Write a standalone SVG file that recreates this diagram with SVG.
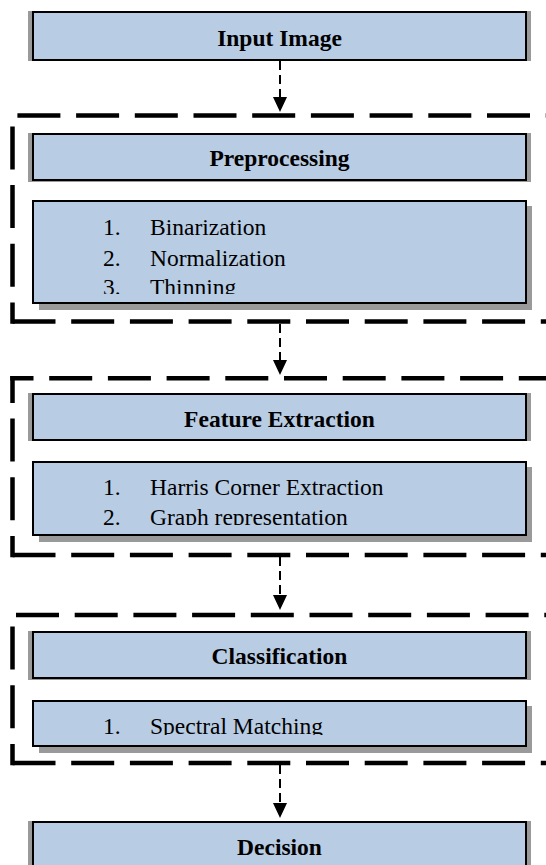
<svg xmlns="http://www.w3.org/2000/svg" width="546" height="865" viewBox="0 0 546 865">
  <style>
    .box { fill: #b8cce4; stroke: #000; stroke-width: 2; }
    .shadow { fill: #9a9a9a; }
    .frame { fill: none; stroke: #000; stroke-width: 4.5; stroke-dasharray: 43 15.7; }
    .flow { fill: none; stroke: #000; stroke-width: 2; stroke-dasharray: 9 5; }
    .head { font-family: "Liberation Serif", "Times New Roman", serif; font-size: 23.5px; font-weight: bold; fill: #000; text-anchor: middle; }
    .item { font-family: "Liberation Serif", "Times New Roman", serif; font-size: 23.5px; fill: #000; }
  </style>
  <defs>
    <marker id="arrow" viewBox="0 0 15 14" markerUnits="userSpaceOnUse" markerWidth="15" markerHeight="14" refX="0" refY="7" orient="auto">
      <path d="M0,0 L15,7 L0,14 Z" fill="#000"/>
    </marker>
    <clipPath id="clip-pre"><rect x="33" y="201" width="493" height="93"/></clipPath>
    <clipPath id="clip-feat"><rect x="33" y="462" width="493" height="63"/></clipPath>
    <clipPath id="clip-class"><rect x="33" y="701" width="493" height="34"/></clipPath>
  </defs>

  <!-- dashed group frames -->
  <g id="frame-preprocessing">
    <path class="frame" d="M12.5,115.5 H546" stroke-dashoffset="53.8"/>
    <path class="frame" d="M12.5,323.75 V115.5" stroke-dashoffset="21.75"/>
    <path class="frame" d="M12.5,321.5 H546"/>
  </g>
  <g id="frame-feature-extraction">
    <path class="frame" d="M10.25,378.3 H546" stroke-dashoffset="19.75"/>
    <path class="frame" d="M12.5,557.25 V376.05" stroke-dashoffset="21.75"/>
    <path class="frame" d="M12.5,555 H546"/>
  </g>
  <g id="frame-classification">
    <path class="frame" d="M12.5,615 H546" stroke-dashoffset="55.2"/>
    <path class="frame" d="M12.5,765.25 V615" stroke-dashoffset="21.75"/>
    <path class="frame" d="M12.5,763 H546"/>
  </g>

  <!-- connectors -->
  <g id="connectors">
    <path class="flow" d="M280,61 V97" marker-end="url(#arrow)"/>
    <path class="flow" d="M280,324 V360" marker-end="url(#arrow)"/>
    <path class="flow" d="M280,557 V595" marker-end="url(#arrow)"/>
    <path class="flow" d="M280,765 V803" marker-end="url(#arrow)"/>
  </g>

  <g id="input-image">
    <rect class="shadow" x="28" y="11" width="503" height="50"/>
    <rect class="box" x="33" y="12" width="493" height="48"/>
    <text class="head" x="279.5" y="46">Input Image</text>
  </g>

  <g id="preprocessing">
    <rect class="shadow" x="28" y="133" width="503" height="49"/>
    <rect class="box" x="33" y="134" width="493" height="46"/>
    <text class="head" x="279.5" y="166">Preprocessing</text>
  </g>
  <g id="preprocessing-steps">
    <rect class="shadow" x="39" y="206" width="493" height="104"/>
    <rect class="box" x="33" y="201" width="493" height="102"/>
    <g clip-path="url(#clip-pre)">
      <text class="item" x="103" y="235">1.</text>
      <text class="item" x="150" y="235">Binarization</text>
      <text class="item" x="103" y="265.5">2.</text>
      <text class="item" x="150" y="265.5">Normalization</text>
      <text class="item" x="103" y="295">3.</text>
      <text class="item" x="150" y="295">Thinning</text>
    </g>
  </g>

  <g id="feature-extraction">
    <rect class="shadow" x="28" y="393" width="503" height="48"/>
    <rect class="box" x="33" y="394" width="493" height="46"/>
    <text class="head" x="279.5" y="426.5">Feature Extraction</text>
  </g>
  <g id="feature-extraction-steps">
    <rect class="shadow" x="39" y="467" width="493" height="75"/>
    <rect class="box" x="33" y="462" width="493" height="73"/>
    <g clip-path="url(#clip-feat)">
      <text class="item" x="103" y="495">1.</text>
      <text class="item" x="150" y="495">Harris Corner Extraction</text>
      <text class="item" x="103" y="525">2.</text>
      <text class="item" x="150" y="525">Graph representation</text>
    </g>
  </g>

  <g id="classification">
    <rect class="shadow" x="28" y="631" width="503" height="49"/>
    <rect class="box" x="33" y="632" width="493" height="46"/>
    <text class="head" x="279.5" y="664">Classification</text>
  </g>
  <g id="classification-steps">
    <rect class="shadow" x="39" y="706" width="493" height="47"/>
    <rect class="box" x="33" y="701" width="493" height="45"/>
    <g clip-path="url(#clip-class)">
      <text class="item" x="103" y="734">1.</text>
      <text class="item" x="150" y="734">Spectral Matching</text>
    </g>
  </g>

  <g id="decision">
    <rect class="shadow" x="28" y="821" width="503" height="60"/>
    <rect class="box" x="33" y="822" width="493" height="58"/>
    <text class="head" x="279.5" y="855">Decision</text>
  </g>
</svg>
